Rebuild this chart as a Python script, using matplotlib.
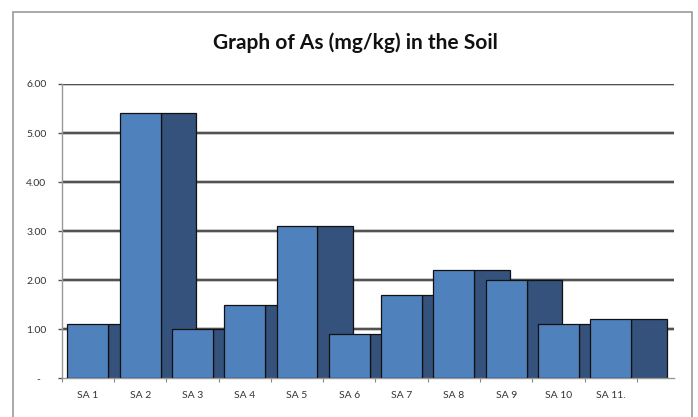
import numpy as np
import matplotlib.pyplot as plt
from matplotlib.patches import Rectangle

# Arsenic content per soil sample (mg/kg)
samples = ["SA 1", "SA 2", "SA 3", "SA 4", "SA 5", "SA 6",
           "SA 7", "SA 8", "SA 9", "SA 10", "SA 11."]
as_front = [1.1, 5.4, 1.0, 1.5, 3.1, 0.9, 1.7, 2.2, 2.0, 1.1, 1.2]
as_back = [1.1, 5.4, 1.0, 1.5, 3.1, 0.9, 1.7, 2.2, 2.0, 1.1, 1.2]
y_ticks = [0, 1, 2, 3, 4, 5, 6]
y_labels = ["-  ", "1.00", "2.00", "3.00", "4.00", "5.00", "6.00"]

plt.rcParams['font.family'] = ['Lato', 'DejaVu Sans']

fig = plt.figure(figsize=(6.98, 4.17), dpi=100)
ax = fig.add_axes([0.0884, 0.0928, 0.8772, 0.7058])

x = np.arange(len(samples))
off = 0.11
w_front = 0.78
w_back = 0.68

# dark bars sit right of the light ones, partly hidden by the next category
ax.bar(x + off + w_front, as_back, width=w_back, align='edge',
       color='#34527c', edgecolor='#111111', linewidth=0.9, zorder=2)
ax.bar(x + off, as_front, width=w_front, align='edge',
       color='#4f81bd', edgecolor='#111111', linewidth=0.9, zorder=3)

ax.set_xlim(0, 11.71)
ax.set_ylim(0, 6)

for v in y_ticks[1:]:
    ax.axhline(v, color='#bbbbbb', lw=2.6, zorder=1)
    ax.axhline(v, color='#333333', lw=1.1, zorder=1)

ax.set_yticks(y_ticks)
ax.set_yticklabels(y_labels, fontsize=7.5, color='#333333')
ax.tick_params(axis='y', direction='out', length=3, width=1, color='#555555', pad=8)

ax.set_xticks(np.arange(0, 12), minor=False)
ax.set_xticklabels([])
ax.set_xticks(x + 0.5, minor=True)
ax.set_xticklabels(samples, minor=True, fontsize=7.5, color='#333333')
ax.tick_params(axis='x', which='major', direction='out', length=3, width=0.8, color='#888888')
ax.tick_params(axis='x', which='minor', length=0, pad=9)

for s in ['top', 'right']:
    ax.spines[s].set_visible(False)
ax.spines['left'].set_color('#999999')
ax.spines['bottom'].set_color('#999999')
ax.spines['left'].set_linewidth(1.0)
ax.spines['bottom'].set_linewidth(1.0)

fig.text(0.509, 0.898, "Graph of As (mg/kg) in the Soil", ha='center', va='center',
         fontsize=15, fontweight='bold', color='#111111')

# outer chart frame
fig.patches.append(Rectangle((13 / 698, -0.05), (692 - 13) / 698, 1 - 12 / 417 + 0.05,
                             transform=fig.transFigure, fill=False,
                             edgecolor='#999999', linewidth=1.2))

fig.savefig('out.png', dpi=100)
